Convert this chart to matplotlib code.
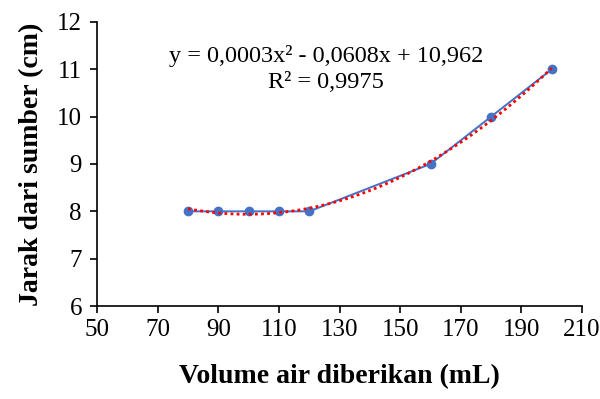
import numpy as np
import matplotlib.pyplot as plt

plt.rcParams['font.family'] = ['Liberation Serif', 'DejaVu Serif']

volume = [80, 90, 100, 110, 120, 160, 180, 200]
jarak = [8, 8, 8, 8, 8, 9, 10, 11]

# trendline polinomial orde 2
koef = np.polyfit(volume, jarak, 2)
xs = np.linspace(min(volume), max(volume), 200)
ys = np.polyval(koef, xs)

fig = plt.figure(figsize=(6, 3.99), dpi=100)
ax = fig.add_axes([0.162, 0.233, 0.808, 0.712])

ax.plot(volume, jarak, color='#4472C4', lw=1.4, marker='o', ms=6, zorder=2)
ax.plot(xs, ys, color='#FF0000', lw=2, ls=(0, (1, 1.2)), zorder=3)

ax.text(125.5, 11.29, 'y = 0,0003x² - 0,0608x + 10,962', ha='center', va='center', fontsize=17.5)
ax.text(125.5, 10.72, 'R² = 0,9975', ha='center', va='center', fontsize=17.5)

ax.set_xlim(50, 210)
ax.set_ylim(6, 12)
ax.set_xticks(range(50, 211, 20))
ax.set_yticks(range(6, 13))
ax.tick_params(labelsize=18, direction='out', length=5, width=1.2, color='black')
ax.tick_params(axis='y', pad=6)
ax.tick_params(axis='x', pad=4)
for s in ['left', 'bottom']:
    ax.spines[s].set_linewidth(1.2)
ax.spines['top'].set_visible(False)
ax.spines['right'].set_visible(False)
ax.set_xlabel('Volume air diberikan (mL)', fontsize=20, fontweight='bold', labelpad=17)
ax.set_ylabel('Jarak dari sumber (cm)', fontsize=20, fontweight='bold', labelpad=9)

fig.savefig('out.png', dpi=100)
